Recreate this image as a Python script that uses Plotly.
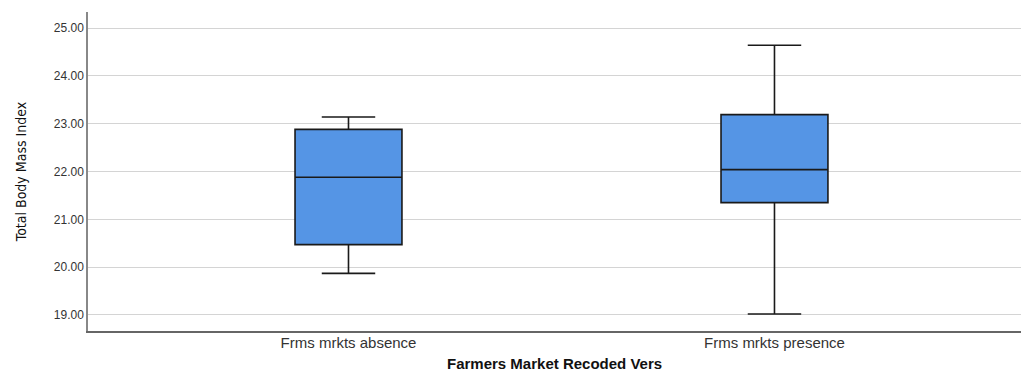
import plotly.graph_objects as go

categories = ["Frms mrkts absence", "Frms mrkts presence"]
q1 = [20.47, 21.35]
median = [21.88, 22.04]
q3 = [22.88, 23.19]
lowerfence = [19.87, 19.02]
upperfence = [23.14, 24.64]
y_ticks = [19, 20, 21, 22, 23, 24, 25]

fig = go.Figure()
fig.add_trace(go.Box(
    x=categories,
    q1=q1, median=median, q3=q3,
    lowerfence=lowerfence, upperfence=upperfence,
    width=0.251,
    whiskerwidth=0.5,
    fillcolor="#5595e5",
    line=dict(color="#1a1a1a", width=1.6),
    boxpoints=False,
    hoverinfo="skip",
    showlegend=False,
))

fig.update_layout(
    width=1021, height=374,
    margin=dict(l=88, r=0, t=12, b=43),
    paper_bgcolor="white", plot_bgcolor="white",
    font=dict(family="Liberation Sans, Arial, sans-serif", color="#222"),
    annotations=[dict(
        text="<b>Farmers Market Recoded Vers</b>",
        xref="paper", yref="paper", x=0.5, y=-0.103,
        xanchor="center", yanchor="middle", showarrow=False,
        font=dict(size=15, color="#111"),
    )],
)
fig.update_xaxes(
    type="category",
    range=[-0.6115, 1.5787],
    showgrid=False,
    showline=True, linecolor="#666", linewidth=1.5,
    ticks="",
    ticklabelstandoff=-3,
    tickfont=dict(size=15, color="#333"),
    zeroline=False,
)
fig.update_yaxes(
    range=[18.665, 25.335],
    tickvals=y_ticks,
    tickformat=".2f",
    showgrid=True, gridcolor="#d4d4d4", gridwidth=1,
    showline=True, linecolor="#888", linewidth=1.5,
    ticks="",
    tickfont=dict(size=12, color="#333"),
    title=dict(text="Total Body Mass Index",
               font=dict(family="DejaVu Sans Condensed, Liberation Sans Narrow, Liberation Sans", size=14, color="#111"),
               standoff=24),
    zeroline=False,
)

fig.write_html("out.html")
